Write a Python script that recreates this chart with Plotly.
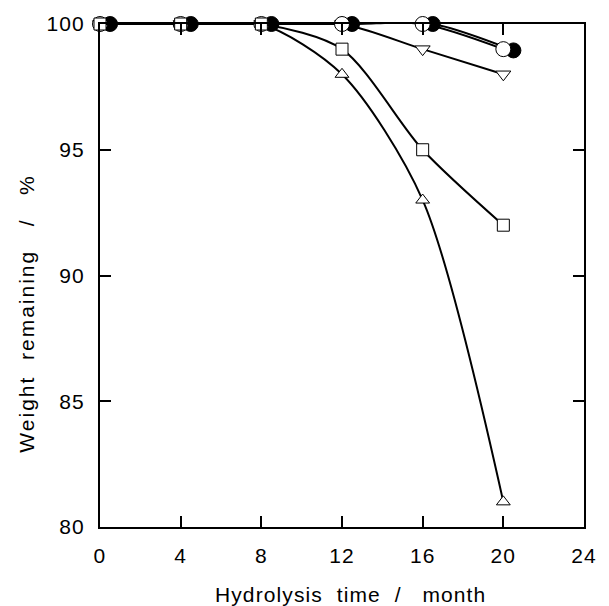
import plotly.graph_objects as go

months = [0, 4, 8, 12, 16, 20]
months_offset = [0.5, 4.5, 8.5, 12.5, 16.5, 20.5]

filled_circle = [100, 100, 100, 100, 100, 98.95]
open_circle = [100, 100, 100, 100, 100, 99.0]
inv_triangle = [100, 100, 100, 100, 99.0, 98.0]
square = [100, 100, 100, 99.0, 95.0, 92.0]
triangle = [100, 100, 100, 98.0, 93.0, 81.0]

x_ticks = [0, 4, 8, 12, 16, 20, 24]
y_ticks = [80, 85, 90, 95, 100]
x_title = "Hydrolysis\u00a0\u00a0time\u00a0\u00a0/\u00a0\u00a0\u00a0month"
y_title = "Weight\u00a0\u00a0remaining\u00a0\u00a0\u00a0/\u00a0\u00a0\u00a0%"

SP = '<span style="letter-spacing:1.1px">{}</span>'
SPY = '<span style="letter-spacing:2px">{}</span>'

fig = go.Figure()

line = dict(color="black", width=2, shape="spline", smoothing=0.8)

def add(x, y, symbol, size, fill):
    fig.add_trace(go.Scatter(
        x=x, y=y, mode="lines+markers", line=line,
        marker=dict(symbol=symbol, size=size, color=fill,
                    line=dict(color="black", width=1)),
        cliponaxis=False, showlegend=False))

add(months, triangle, "triangle-up", 12, "white")
add(months, inv_triangle, "triangle-down", 13, "white")
add(months_offset, filled_circle, "circle", 15, "black")
add(months, open_circle, "circle", 15, "white")
add(months, square, "square", 12, "white")

font = dict(family="Liberation Sans, Arial, sans-serif", size=21, color="black")

common = dict(ticks="inside", ticklen=11, tickwidth=2, tickcolor="black",
              showline=True, linecolor="black", linewidth=2, mirror="ticks",
              showgrid=False, zeroline=False, tickfont=font)

fig.update_layout(
    width=609, height=606,
    margin=dict(l=100, r=14, t=16, b=79),
    paper_bgcolor="white", plot_bgcolor="white",
    font=font,
    xaxis=dict(range=[0, 24], tickvals=x_ticks,
               ticktext=[SP.format(v) for v in x_ticks],
               ticklabelstandoff=9, **common),
    yaxis=dict(range=[80, 100], tickvals=y_ticks,
               ticktext=[SP.format(v) for v in y_ticks],
               ticklabelstandoff=9, **common),
    annotations=[
        dict(text=SP.format(x_title), xref="paper", yref="paper",
             x=0.518, y=-0.135, yanchor="middle", xanchor="center",
             showarrow=False, font=font),
        dict(text=SPY.format(y_title), xref="paper", yref="paper",
             x=-0.152, y=0.425, xanchor="center", yanchor="middle",
             textangle=-90, showarrow=False, font=font),
    ],
)

fig.write_html("out.html")
